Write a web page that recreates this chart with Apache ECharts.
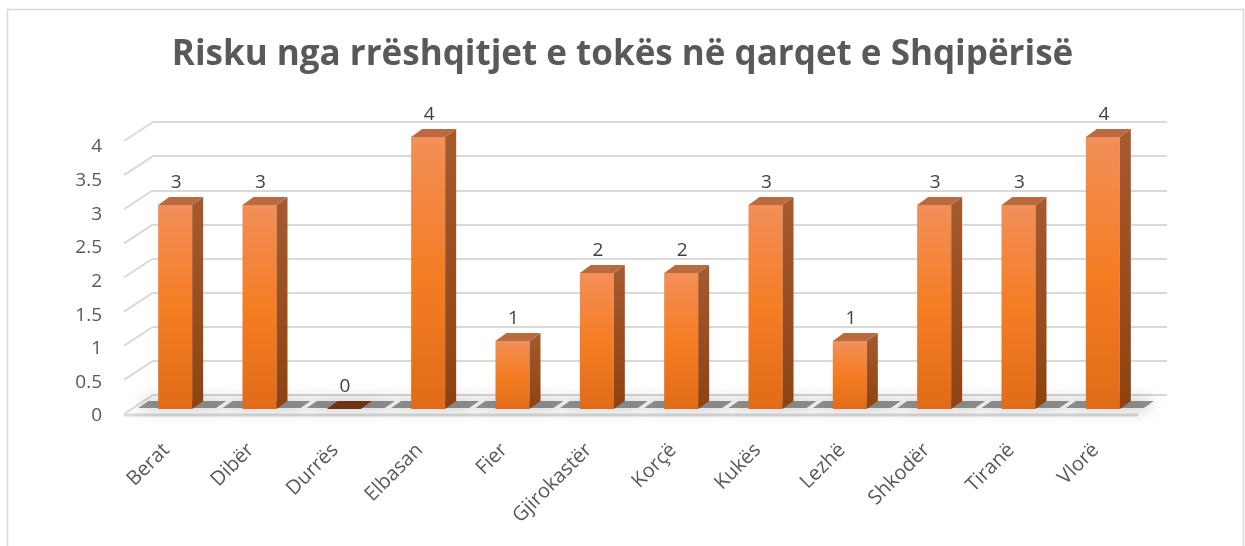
<!DOCTYPE html>
<html>
<head>
<meta charset="utf-8">
<script src="https://cdn.jsdelivr.net/npm/echarts@6/dist/echarts.min.js"></script>
<style>
  html, body { margin: 0; padding: 0; background: #fff; }
  #chart { width: 1245px; height: 546px; }
</style>
</head>
<body>
<div id="chart"></div>
<script>
// data
const titleText = 'Risku nga rrëshqitjet e tokës në qarqet e Shqipërisë';
const regions = ['Berat', 'Dibër', 'Durrës', 'Elbasan', 'Fier', 'Gjirokastër', 'Korçë', 'Kukës', 'Lezhë', 'Shkodër', 'Tiranë', 'Vlorë'];
const risk = [3, 3, 0, 4, 1, 2, 2, 3, 1, 3, 3, 4];
const yTicks = [0, 0.5, 1, 1.5, 2, 2.5, 3, 3.5, 4];

const chart = echarts.init(document.getElementById('chart'));

// fake 3d offsets
const BAR_W = 34;
const DEPTH_X = 11, DEPTH_Y = -8;
const WALL_X = 29, WALL_Y = -19;
const textColor = '#595959';

function renderBar(params, api) {
  const v = api.value(1);
  const base = api.coord([api.value(0), 0]);
  const top = api.coord([api.value(0), v]);
  const cx = base[0];
  const xl = cx - BAR_W / 2, xr = cx + BAR_W / 2;
  const yb = base[1], yt = top[1];
  const children = [];

  // floor shadow
  children.push({
    type: 'polygon',
    shape: { points: [[xl - 20, yb - 1], [xr + 24, yb - 1], [xr + 34, yb - 8], [xl - 10, yb - 8]] },
    style: { fill: 'rgba(45,45,45,0.5)', shadowBlur: 16, shadowColor: 'rgba(0,0,0,0.7)' },
    z2: 1
  });

  if (v > 0) {
    // front face
    children.push({
      type: 'rect',
      shape: { x: xl, y: yt, width: BAR_W, height: yb - yt },
      style: {
        fill: new echarts.graphic.LinearGradient(0, 0, 0, 1, [
          { offset: 0, color: '#f28f58' },
          { offset: 0.5, color: '#f57d24' },
          { offset: 1, color: '#e16b17' }
        ])
      },
      z2: 3
    });
    // side face
    children.push({
      type: 'polygon',
      shape: { points: [[xr, yt], [xr + DEPTH_X, yt + DEPTH_Y], [xr + DEPTH_X, yb + DEPTH_Y], [xr, yb]] },
      style: {
        fill: new echarts.graphic.LinearGradient(0, 0, 0, 1, [
          { offset: 0, color: '#a65a30' },
          { offset: 1, color: '#8c4311' }
        ])
      },
      z2: 3
    });
  }
  // top face
  children.push({
    type: 'polygon',
    shape: { points: [[xl, yt], [xl + DEPTH_X, yt + DEPTH_Y], [xr + DEPTH_X, yt + DEPTH_Y], [xr, yt]] },
    style: { fill: v > 0 ? '#b96a3f' : '#6e3415' },
    z2: 4
  });
  // value label
  children.push({
    type: 'text',
    style: {
      text: String(v),
      x: cx + 1,
      y: yt + DEPTH_Y - 5,
      align: 'center',
      verticalAlign: 'bottom',
      fill: '#404040',
      font: '19px "Open Sans", sans-serif'
    },
    z2: 5
  });
  return { type: 'group', children: children };
}

// side wall lines + floor front edge
function renderWall(params, api) {
  const v = api.value(1);
  const y = api.coord([0, v])[1];
  const cs = params.coordSys;
  const lines = [{
    type: 'line',
    shape: { x1: cs.x - WALL_X, y1: y - WALL_Y, x2: cs.x, y2: y },
    style: { stroke: '#d9d9d9', lineWidth: 2 }
  }];
  if (v === 0) {
    lines.push({
      type: 'line',
      shape: { x1: cs.x - WALL_X, y1: y - WALL_Y + 1, x2: cs.x + cs.width - WALL_X, y2: y - WALL_Y + 1 },
      style: { stroke: '#d9d9d9', lineWidth: 3 }
    });
  }
  return { type: 'group', children: lines };
}

const option = {
  backgroundColor: '#fff',
  animation: false,
  title: {
    text: titleText,
    left: 'center',
    top: 33,
    textStyle: { fontFamily: 'Open Sans', fontWeight: 'bold', fontSize: 35, color: textColor }
  },
  graphic: [{
    type: 'rect',
    shape: { x: 7.5, y: 9.5, width: 1236, height: 545 },
    style: { fill: 'none', stroke: '#d9d9d9', lineWidth: 1.5 },
    silent: true
  }],
  grid: [
    // back wall
    { left: 153, right: 78, top: 122, bottom: 151 },
    // front edge: y labels and category labels
    { left: 124, right: 107, top: 147, bottom: 130 },
    // bar plane
    { left: 133, right: 100, top: 137, bottom: 137 }
  ],
  xAxis: [
    { gridIndex: 0, type: 'category', data: regions, show: false },
    {
      gridIndex: 1, type: 'category', data: regions,
      axisLine: { show: false }, axisTick: { show: false },
      axisLabel: {
        rotate: 45, margin: 31, interval: 0,
        color: textColor, fontSize: 20, fontFamily: 'Open Sans'
      }
    },
    { gridIndex: 2, type: 'category', data: regions, show: false }
  ],
  yAxis: [
    {
      gridIndex: 0, type: 'value', min: 0, max: 4, interval: 0.5,
      axisLabel: { show: false }, axisLine: { show: false }, axisTick: { show: false },
      splitLine: { lineStyle: { color: '#d9d9d9', width: 2 } }
    },
    {
      gridIndex: 1, type: 'value', min: 0, max: 4, interval: 0.5,
      axisLine: { show: false }, axisTick: { show: false }, splitLine: { show: false },
      axisLabel: { color: textColor, fontSize: 19, fontFamily: 'Open Sans', margin: 22 }
    },
    { gridIndex: 2, type: 'value', min: 0, max: 4, show: false }
  ],
  series: [
    {
      type: 'custom',
      xAxisIndex: 0, yAxisIndex: 0,
      renderItem: renderWall,
      data: yTicks.map(v => [0, v]),
      silent: true
    },
    {
      type: 'custom',
      xAxisIndex: 2, yAxisIndex: 2,
      renderItem: renderBar,
      data: risk.map((v, i) => [i, v]),
      z: 5
    }
  ]
};

chart.setOption(option);
</script>
</body>
</html>
